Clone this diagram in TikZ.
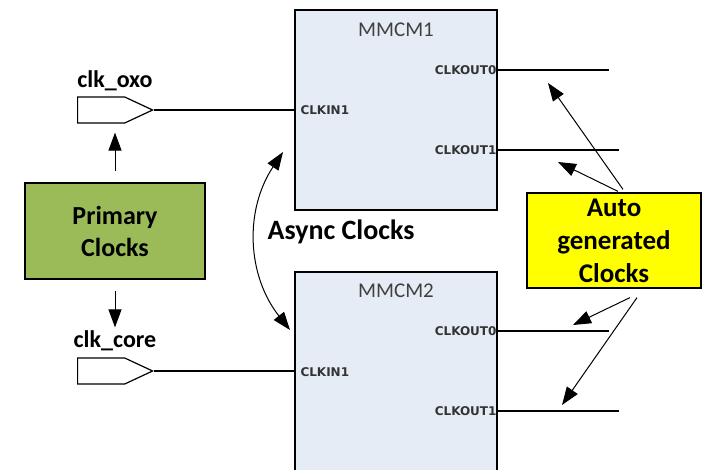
\documentclass[tikz,border=0pt]{standalone}
\usepackage{fontspec}
\setmainfont{Carlito}
\newfontfamily\pinfont{DejaVu Sans}
\usetikzlibrary{calc,positioning,arrows.meta,shapes.symbols}
\definecolor{mmcmfill}{HTML}{E6ECF6}
\definecolor{primgreen}{HTML}{9BBB59}
\definecolor{autoyellow}{HTML}{FFFF00}
\begin{document}
\begin{tikzpicture}[x=1pt,y=-1pt]
    \tikzstyle{mmcm}=[rectangle,draw,line width=1.4pt,fill=mmcmfill,minimum width=202pt,minimum height=200pt,inner sep=0]
    \tikzstyle{pin}=[inner sep=1pt,text=black!80,font=\pinfont\bfseries\fontsize{12}{14}\selectfont]
    \tikzstyle{port}=[signal,signal to=east,draw,line width=1.2pt,minimum width=75pt,minimum height=26pt,inner sep=0,signal pointer angle=50,anchor=west]
    \tikzstyle{lbl}=[anchor=base,font=\bfseries\fontsize{24}{28}\selectfont]
    \tikzstyle{note}=[rectangle,draw,line width=1.2pt,align=center,inner sep=0,font=\bfseries\fontsize{26}{32}\selectfont]
    \tikzstyle{wire}=[line width=1.2pt]
    \tikzstyle{hint}=[-{Triangle[length=18pt,width=13pt]},line width=1pt]
    \useasboundingbox (0,0) rectangle (702,469);
    % MMCM blocks
    \node[mmcm] (m1) at (396,110) {};
    \node[mmcm] (m2) at (396,372) {};
    \node[text=black!75,font=\fontsize{21}{24}\selectfont] (m1name) at ($(m1.north)+(0,20)$) {MMCM1};
    \node[text=black!75,font=\fontsize{21}{24}\selectfont] (m2name) at ($(m2.north)+(0,19)$) {MMCM2};
    \node[pin,anchor=west,xshift=5pt] (m1in) at (m1.west) {CLKIN1};
    \node[pin,anchor=west,xshift=5pt] (m2in) at (m2.west) {CLKIN1};
    \node[pin,anchor=east] (m1o0) at ($(m1.east)+(0,-40)$) {CLKOUT0};
    \node[pin,anchor=east] (m1o1) at ($(m1.east)+(0,40)$) {CLKOUT1};
    \node[pin,anchor=east] (m2o0) at ($(m2.east)+(0,-41)$) {CLKOUT0};
    \node[pin,anchor=east] (m2o1) at ($(m2.east)+(0,39)$) {CLKOUT1};
    \coordinate (m1e0) at ($(m1o0.east)+(111,0)$);
    \coordinate (m1e1) at ($(m1o1.east)+(121,0)$);
    \coordinate (m2e0) at ($(m2o0.east)+(111,0)$);
    \coordinate (m2e1) at ($(m2o1.east)+(121,0)$);
    \draw[wire] (m1o0.east) -- (m1e0);
    \draw[wire] (m1o1.east) -- (m1e1);
    \draw[wire] (m2o0.east) -- (m2e0);
    \draw[wire] (m2o1.east) -- (m2e1);
    % input ports
    \node[port] (oxo) at (77,110) {};
    \node[port] (core) at (77,371) {};
    \node[lbl] (oxoname) at (115,87) {clk\_oxo};
    \node[lbl] (corename) at (115,347) {clk\_core};
    \draw[wire] (oxo.east) -- (oxo.east -| m1.west);
    \draw[wire] (core.east) -- (core.east -| m2.west);
    % primary clocks
    \node[note,fill=primgreen,minimum width=180pt,minimum height=96pt] (prim) at (115,231) {Primary\\Clocks};
    \draw[hint,shorten <=11pt,shorten >=9pt] (prim.north) -- (prim.north |- oxo.south);
    \draw[hint,shorten <=11pt,shorten >=30pt] (prim.south) -- (prim.south |- core.north);
    % async clocks
    \node[anchor=base,font=\bfseries\fontsize{28}{32}\selectfont] (async) at (341,239) {Async Clocks};
    \coordinate (a1) at (283,152);
    \coordinate (a2) at (290,330);
    \draw[{Triangle[length=18pt,width=13pt]}-{Triangle[length=18pt,width=13pt]},line width=1pt] (a1) to[bend right=36] (a2);
    % auto generated clocks
    \node[note,fill=autoyellow,minimum width=174pt,minimum height=95pt,font=\bfseries\fontsize{27}{33}\selectfont] (auto) at (614,240.5) {Auto\\generated\\Clocks};
    \coordinate (t0) at (548,83);
    \coordinate (t1) at (558,162);
    \coordinate (t2) at (573,325);
    \coordinate (t3) at (562,405);
    \draw[hint] ($(auto.north)+(9,-3)$) -- (t0);
    \draw[hint] ($(auto.north)+(4,-1)$) -- (t1);
    \draw[hint] ($(auto.south)+(16,9)$) -- (t2);
    \draw[hint] ($(auto.south)+(23,9)$) -- (t3);
\end{tikzpicture}
\end{document}
